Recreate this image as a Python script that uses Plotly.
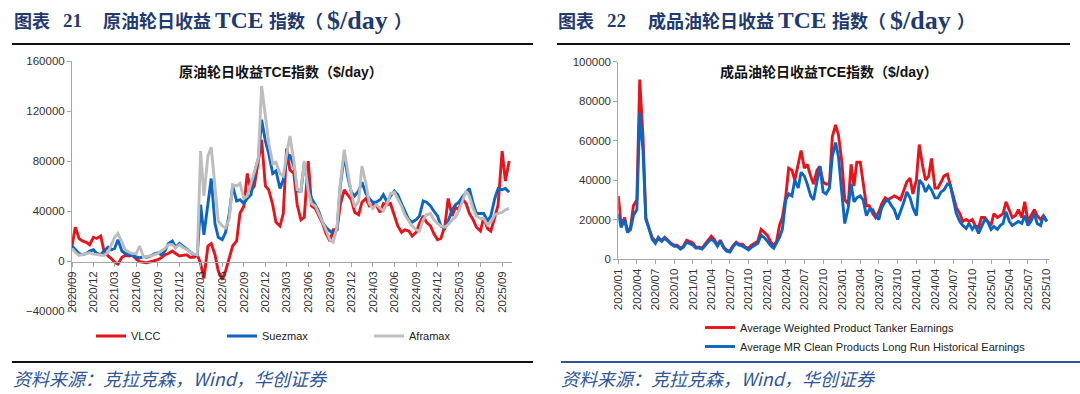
import pandas as pd
import plotly.graph_objects as go

# ---------------- Left chart data (semi-monthly from 2020-09) ----------------
vlcc = [12000, 27000, 18000, 16000, 15000, 13000, 19000, 18000, 20000, 8000,
        4000, 2000, -1000, -2500, 3000, 4500, 4000, 5000, 1500, -500,
        -1000, -1500, -500, 0, 1000, 2500, 5000, 6000, 8000, 6000,
        4000, 4500, 5000, 3000, 3000, 5000, -2000,
        -14000, 12000, 14000, 5000, -8000, -15000, -8000, 3000, 12000, 16000,
        38000, 44000, 70000, 56000, 60000, 80000, 97000, 60000,
        57000, 45000, 31000, 28000, 38000, 90000, 73000, 70000, 45000, 33000,
        35000, 80000, 44000, 42000, 37000, 30000, 22000, 16000, 25000, 25000,
        45000, 57000, 53000, 49000, 39000, 37000, 47000, 50000, 44000, 45000,
        45000, 39000, 46000, 45000, 46000, 36000, 28000, 23000, 25000, 24000,
        20000, 23000, 30000, 36000, 31000, 28000, 22000, 17000, 18000, 28000,
        50000, 36000, 43000, 41000, 50000, 46000, 38000, 33000, 27000, 24000,
        35000, 26000, 24000, 35000, 45000, 88000, 64000, 80000]
suezmax = [12000, 9000, 6000, 5000, 6000, 8000, 9000, 6000, 5000, 8000,
           11000, 9000, 10000, 17000, 8000, 6000, 5000, 4500, 3000, 2500,
           3500, 3000, 4000, 5500, 6500, 5000, 8000, 14000, 16000, 11000,
           14000, 12000, 9000, 7000, 5000, 5000, 45000,
           21000, 48000, 66000, 30000, 19000, 17000, 23000, 38000, 60000, 48000,
           49000, 46000, 50000, 53000, 70000, 82000, 113000, 96000, 86000, 70000,
           72000, 58000, 65000, 80000, 85000, 76000, 56000, 56000, 78000, 60000,
           50000, 45000, 40000, 31000, 27000, 24000, 22500, 25000, 60000, 85000,
           68000, 55000, 52000, 56000, 63000, 54000, 50000, 47000, 47000, 49000,
           53000, 47000, 52000, 56000, 53000, 46000, 40000, 33000, 31000, 33000,
           36000, 48000, 47000, 44000, 40000, 36000, 28000, 26000, 32000, 41000,
           45000, 47000, 51000, 55000, 58000, 46000, 38000, 38000, 38000, 32000,
           36000, 50000, 58000, 57000, 58000, 55000]
aframax = [10000, 7000, 4500, 5000, 6000, 6500, 5500, 5000, 5000, 4500,
           7000, 13000, 19000, 22000, 14000, 9000, 7000, 6000, 6000, 12000,
           3500, 3500, 4000, 5000, 6000, 8000, 10000, 13000, 13000, 10500,
           13000, 11000, 9000, 7000, 5500, 5000,
           88000, 52000, 84000, 91000, 60000, 32000, 28000, 26500, 34000, 61000,
           60000, 62000, 50000, 52000, 62000, 71000, 82000, 140000, 118000, 95000,
           78000, 79000, 70000, 68000, 85000, 100000, 80000, 57000, 56000, 80000,
           56000, 46000, 44000, 38000, 32000, 25000, 17000, 15000, 27000, 62000,
           89000, 72000, 54000, 43000, 48000, 76000, 62000, 46000, 42000, 45000,
           42000, 40000, 46000, 54000, 55000, 50000, 44000, 37000, 32000, 28000,
           25000, 24000, 33000, 37000, 38000, 33000, 30000, 28000, 27000, 29000,
           33000, 35000, 40000, 48000, 56000, 52000, 42000, 36000, 34000, 34000,
           29000, 31000, 37000, 38000, 39000, 41000, 42000]
left_dates = pd.date_range("2020-09-01", periods=len(vlcc), freq="SMS")

# ---------------- Right chart data (semi-monthly from 2020-01) ----------------
weighted = [32000, 17000, 21000, 14000, 16000, 27000, 30000, 91000, 62000, 21000,
            15000, 11000, 9000, 10000, 9500, 11000, 9500, 8000, 7000, 7000,
            5500, 6500, 9500, 9000, 8000, 6000, 6000, 5500, 7500, 9500,
            11500, 10000, 7000, 9500, 6000, 4500, 4000, 6500, 8500, 7500,
            7500, 6000, 5500, 7000, 8000, 9000, 15000, 13500, 12000, 9000,
            6500, 9000, 17000, 21000, 32000, 46000, 45000, 40000, 48000, 55000,
            46000, 48000, 42000, 38000, 45000, 47000, 39000, 38000, 38000, 62000,
            68000, 63000, 49000, 30000, 28000, 48000, 37000, 49000, 49000, 38000,
            27000, 27000, 23000, 21000, 24000, 28000, 31000, 30000, 31000, 32000,
            31000, 30000, 35000, 39000, 41000, 33000, 40000, 58000, 47000, 40000,
            42000, 51000, 36000, 36000, 39000, 42000, 43000, 38000, 32000, 26000,
            23000, 19000, 20000, 19000, 20000, 17000, 16000, 21000, 21000, 19000,
            17000, 23000, 21000, 22000, 23000, 29000, 24000, 21000, 22000, 25000,
            21000, 29000, 19000, 22000, 25000, 22000, 20000, 22000, 19000]
mr_clean = [23000, 16000, 20000, 13500, 15000, 22000, 25000, 74000, 55000, 20000,
            15000, 10000, 8000, 11000, 9000, 10500, 9000, 7500, 6500, 6500,
            5000, 6000, 8500, 8000, 7000, 5500, 5500, 5000, 7000, 8500,
            10000, 9000, 6500, 9000, 5500, 4000, 3500, 6000, 8000, 7000,
            6500, 5500, 4600, 6000, 7000, 8000, 12000, 11000, 9000, 7000,
            5500, 8000, 11000, 15000, 30000, 33000, 32000, 40000, 36000, 44000,
            42000, 38000, 32000, 30000, 40000, 47000, 34000, 33000, 36000, 52000,
            59000, 52000, 33000, 18000, 26000, 38000, 29000, 31000, 32000, 30000,
            22000, 25000, 25000, 22000, 20000, 26000, 29000, 30000, 27000, 25000,
            20000, 24000, 29000, 34000, 31000, 26000, 22000, 40000, 38000, 34000,
            37000, 35000, 31000, 31000, 34000, 35000, 38000, 37500, 29000, 23000,
            19000, 17000, 15500, 18000, 15000, 17000, 13000, 16000, 20000, 19000,
            15000, 16500, 15000, 17000, 18000, 24000, 19000, 17000, 18000, 19000,
            18000, 22000, 17000, 19000, 23000, 18000, 17000, 22000, 19000]
right_dates = pd.date_range("2020-01-01", periods=len(weighted), freq="SMS")

left_ticks = [-40000, 0, 40000, 80000, 120000, 160000]
right_ticks = [0, 20000, 40000, 60000, 80000, 100000]

W, H = 1080, 394


def fx(x):
    return x / W


def fy(y):
    return 1 - y / H


RED = "#E8131B"
BLUE = "#0B66C3"
GRAY = "#BDBDBD"
TICKFONT = dict(family="Liberation Sans, Arial", size=11.5, color="#333333")
LEGFONT = dict(family="Liberation Sans, Arial", size=11, color="#222222")

fig = go.Figure()
fig.add_trace(go.Scatter(x=left_dates, y=vlcc, name="VLCC", mode="lines",
                         line=dict(color=RED, width=2.9), xaxis="x", yaxis="y", legend="legend"))
fig.add_trace(go.Scatter(x=left_dates, y=suezmax, name="Suezmax", mode="lines",
                         line=dict(color=BLUE, width=2.9), xaxis="x", yaxis="y", legend="legend3"))
fig.add_trace(go.Scatter(x=left_dates, y=aframax, name="Aframax", mode="lines",
                         line=dict(color=GRAY, width=2.9), xaxis="x", yaxis="y", legend="legend4"))
fig.add_trace(go.Scatter(x=right_dates, y=weighted, name="Average Weighted Product Tanker Earnings",
                         mode="lines", line=dict(color=RED, width=2.9), xaxis="x2", yaxis="y2",
                         legend="legend2"))
fig.add_trace(go.Scatter(x=right_dates, y=mr_clean,
                         name="Average MR Clean Products Long Run Historical Earnings",
                         mode="lines", line=dict(color=BLUE, width=2.9), xaxis="x2", yaxis="y2",
                         legend="legend2"))

axis_common = dict(showgrid=False, zeroline=False, showline=True, linecolor="#A6A6A6",
                   linewidth=1, ticks="outside", ticklen=4, tickcolor="#A6A6A6",
                   tickfont=TICKFONT, automargin=False)


def leg(x, y, yanchor="middle", orientation="h"):
    return dict(orientation=orientation, x=fx(x), y=fy(y), xanchor="left", yanchor=yanchor,
                itemwidth=30, font=LEGFONT, bgcolor="rgba(0,0,0,0)", tracegroupgap=0)


fig.update_layout(
    width=W, height=H, margin=dict(l=0, r=0, t=0, b=0, autoexpand=False),
    paper_bgcolor="white", plot_bgcolor="rgba(0,0,0,0)",
    showlegend=True,
    xaxis=dict(domain=[fx(72), fx(512)], range=["2020-09-01", "2025-10-13"], type="date",
               anchor="free", position=fy(261.7), tickformat="%Y/%m", dtick="M3",
               tick0="2020-09-01", tickangle=-90, **axis_common),
    yaxis=dict(domain=[fy(311), fy(61)], range=[-40000, 160000], tickvals=left_ticks,
               tickformat="d", anchor="x", **axis_common),
    xaxis2=dict(domain=[fx(618.3), fx(1049)], range=["2020-01-01", "2025-10-12"], type="date",
                anchor="y2", tickformat="%Y/%m", dtick="M3", tick0="2020-01-01",
                tickangle=-90, **axis_common),
    yaxis2=dict(domain=[fy(259), fy(61.7)], range=[0, 100000], tickvals=right_ticks,
                tickformat="d", anchor="x2", **axis_common),
    legend=leg(91, 336),
    legend3=leg(222, 336),
    legend4=leg(369, 336),
    legend2=leg(700, 313, yanchor="top", orientation="v"),
)

NAVY = "#1F3A6E"
CJK_T = dict(family="Noto Sans CJK SC", size=18, color=NAVY)
LAT_T = dict(family="Liberation Serif", size=23.5, color=NAVY)
DOL_T = dict(family="Liberation Serif", size=26, color=NAVY)
DIG_T = dict(family="Liberation Serif", size=19, color=NAVY)
title_pieces = [
    (13, "图表", CJK_T), (62, "21", DIG_T), (102, "原油轮日收益", CJK_T),
    (214, "TCE", LAT_T), (268, "指数（", CJK_T), (326, "$/day", DOL_T),
    (393, "）", CJK_T),
    (557, "图表", CJK_T), (606, "22", DIG_T), (647, "成品油轮日收益", CJK_T),
    (777, "TCE", LAT_T), (831, "指数（", CJK_T), (889, "$/day", DOL_T),
    (956, "）", CJK_T),
]
for xs, txt, fnt in title_pieces:
    fig.add_annotation(xref="paper", yref="paper", x=fx(xs), y=fy(20), xanchor="left",
                       yanchor="middle", showarrow=False, borderpad=0,
                       text="<b>" + txt + "</b>", font=fnt)

for xc, txt in [(281, "原油轮日收益TCE指数（$/day）"), (829, "成品油轮日收益TCE指数（$/day）")]:
    fig.add_annotation(xref="paper", yref="paper", x=fx(xc), y=fy(72), xanchor="center",
                       yanchor="middle", showarrow=False, text="<b>" + txt + "</b>",
                       font=dict(family="Liberation Sans, Noto Sans CJK SC", size=14,
                                 color="#111111"))

SRC_FONT = dict(family="Noto Sans CJK SC", size=18, color="#2F5597")
for xs in (12, 560):
    fig.add_annotation(xref="paper", yref="paper", x=fx(xs), y=fy(378), xanchor="left",
                       yanchor="middle", showarrow=False, borderpad=0,
                       text="<i>资料来源：克拉克森，Wind，华创证券</i>", font=SRC_FONT)

# separator rules
rules = [(12, 533, 44, "#111111"), (557, 1070, 44, "#111111"),
         (12, 533, 362, "#111111"), (561, 1080, 362, "#2F5597")]
for x0, x1, yy, col in rules:
    fig.add_shape(type="line", xref="paper", yref="paper", x0=fx(x0), x1=fx(x1),
                  y0=fy(yy), y1=fy(yy), line=dict(color=col, width=2))

fig.write_html("out.html", config={"displayModeBar": False},
               post_script="document.body.style.margin='0px';"
                           "document.body.style.overflow='hidden';")
